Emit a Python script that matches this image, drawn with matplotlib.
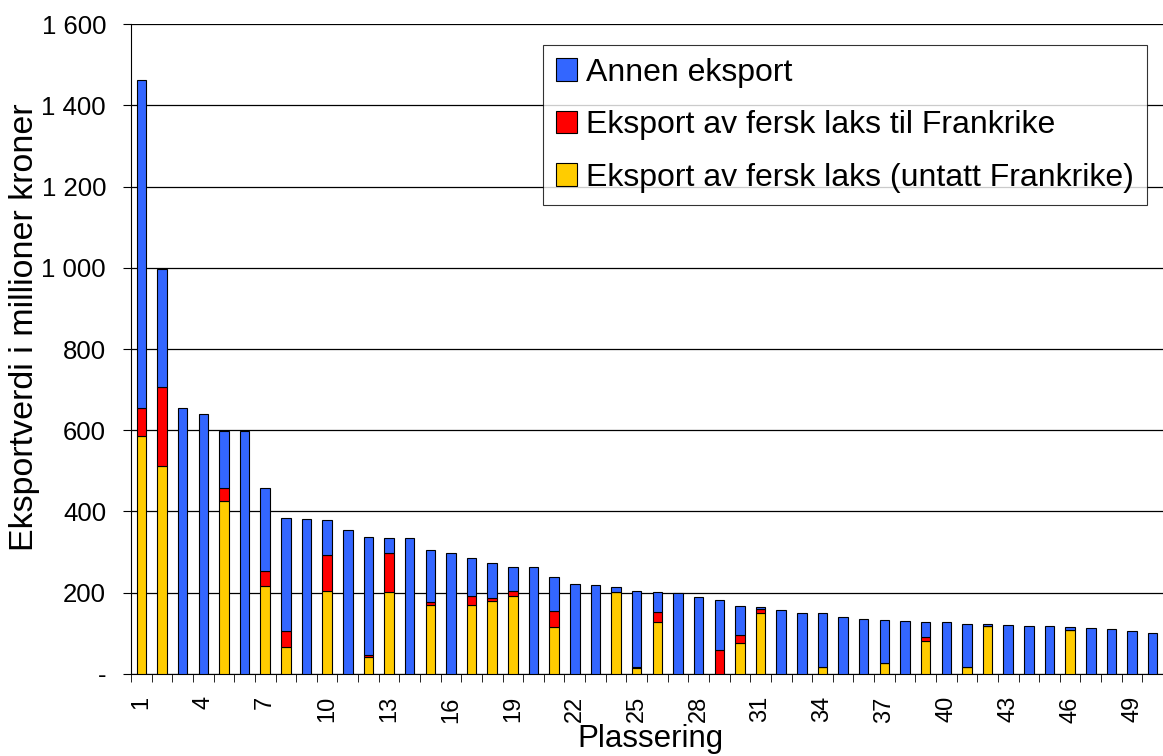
import matplotlib
matplotlib.use("Agg")
import matplotlib.pyplot as plt
import numpy as np

plt.rcParams['font.family'] = ['Liberation Sans', 'DejaVu Sans']

# verdier lest av figuren (millioner kroner)
plassering = list(range(1, 51))
laks_uten_frankrike = [587, 512, 0, 0, 427, 0, 216, 67, 0, 205,
                       0, 41, 203, 0, 169, 0, 169, 180, 193, 0,
                       115, 0, 0, 201, 15, 127, 0, 0, 0, 77,
                       150, 0, 0, 18, 0, 0, 27, 0, 80, 0,
                       16, 118, 0, 0, 0, 108, 0, 0, 0, 0]
laks_frankrike = [69, 195, 0, 0, 32, 0, 37, 39, 0, 88,
                  0, 5, 95, 0, 7, 0, 24, 7, 11, 0,
                  39, 0, 0, 2, 2, 25, 0, 0, 58, 18,
                  10, 0, 0, 0, 0, 0, 0, 0, 11, 0,
                  0, 1, 0, 0, 0, 1, 0, 0, 0, 0]
totalt = [1462, 998, 656, 641, 599, 597, 457, 383, 381, 379,
          355, 336, 335, 334, 304, 297, 285, 274, 264, 263,
          238, 221, 218, 213, 204, 201, 199, 190, 181, 167,
          164, 157, 150, 150, 140, 135, 132, 130, 127, 127,
          122, 122, 120, 117, 117, 115, 112, 110, 106, 100]

gul = np.array(laks_uten_frankrike)
rod = np.array(laks_frankrike)
annen = np.array(totalt) - gul - rod
x = np.array(plassering)

fig = plt.figure(figsize=(11.63, 7.56), dpi=100)
ax = fig.add_axes([0.1127, 0.1085, 0.8873, 0.8597])

w = 0.46
b1 = ax.bar(x, gul, w, color='#FFCC00', edgecolor='black', linewidth=0.8, zorder=3,
            label='Eksport av fersk laks (untatt Frankrike)')
b2 = ax.bar(x, rod, w, bottom=gul, color='#FF0000', edgecolor='black', linewidth=0.8, zorder=3,
            label='Eksport av fersk laks til Frankrike')
b3 = ax.bar(x, annen, w, bottom=gul + rod, color='#3366FF', edgecolor='black', linewidth=0.8,
            zorder=3, label='Annen eksport')

ax.set_xlim(0.5, 50.5)
ax.set_ylim(0, 1600)
yt = np.arange(0, 1601, 200)
ax.set_yticks(yt)
ax.set_yticklabels(['-'] + [f'{v:,}'.replace(',', ' ') for v in yt[1:]], fontsize=18.5)
ax.set_xticks(x[::3])
ax.set_xticklabels([str(v) for v in x[::3]], rotation=90, fontsize=17)
ax.set_xticks(np.arange(0.5, 51, 1), minor=True)
ax.tick_params(axis='x', which='major', length=0, pad=16)
ax.tick_params(axis='x', which='minor', length=6, direction='out', color='black')
ax.tick_params(axis='y', length=6, direction='out', pad=12)

ax.grid(axis='y', color='black', linewidth=0.9, zorder=0)
ax.set_axisbelow(True)
for s in ['top', 'right']:
    ax.spines[s].set_visible(False)

ax.set_ylabel('Eksportverdi i millioner kroner', fontsize=24.5)
ax.yaxis.set_label_coords(-0.088, 0.534)
ax.set_xlabel('Plassering', fontsize=22.5)
ax.xaxis.set_label_coords(0.503, -0.077)

leg = ax.legend(handles=[b3, b2, b1], loc='upper right', bbox_to_anchor=(0.9845, 0.9677),
                borderaxespad=0, fontsize=23, frameon=True, fancybox=False,
                edgecolor='black', handlelength=0.65, handleheight=0.7,
                handletextpad=0.3, labelspacing=0.7, borderpad=0.4)
leg.get_frame().set_linewidth(0.8)

fig.savefig('out.png', dpi=100)
